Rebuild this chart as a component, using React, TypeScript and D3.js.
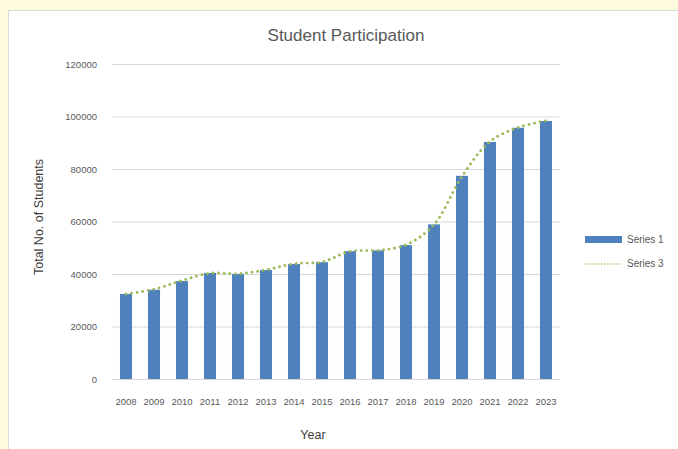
import * as d3 from 'd3';
import React from 'react';

const years = ['2008', '2009', '2010', '2011', '2012', '2013', '2014', '2015', '2016', '2017', '2018', '2019', '2020', '2021', '2022', '2023'];
const series1 = [32400, 34000, 37300, 40400, 40000, 41500, 43800, 44500, 48700, 49000, 51000, 58900, 77400, 90300, 95700, 98300];
const series3 = [32400, 34200, 37500, 40300, 40100, 41600, 43900, 44600, 48600, 49000, 51100, 58800, 77200, 90500, 95800, 98400];
const yTicks = [0, 20000, 40000, 60000, 80000, 100000, 120000];

const W = 678;
const H = 449;
const font = '"Liberation Sans", Arial, sans-serif';
const textColor = '#595959';

const App: React.FC = () => {
  const margin = { top: 64, right: 118, bottom: 70, left: 112 };
  const plotW = W - margin.left - margin.right;
  const plotH = H - margin.top - margin.bottom;

  const x = d3.scaleBand()
    .range([0, plotW])
    .domain(years)
    .paddingInner(0.57)
    .paddingOuter(0.285);

  const y = d3.scaleLinear()
    .domain([0, 120000])
    .range([plotH, 0]);

  const line = d3.line<number>()
    .x((_, i) => (x(years[i]) ?? 0) + x.bandwidth() / 2)
    .y(d => y(d))
    .curve(d3.curveCatmullRom.alpha(0.5));

  return (
    <div style={{ position: 'fixed', left: 0, top: 0 }}>
      <svg width={W} height={H} style={{ display: 'block' }}>
        <rect x={0} y={0} width={W} height={H} fill="#fdfbdb" />
        <rect x={8.5} y={10.5} width={W} height={H} fill="#ffffff" stroke="#d9d9d9" />
        <text x={346} y={41} textAnchor="middle" fontFamily={font} fontSize={17} fill={textColor}>Student Participation</text>

        <g transform={`translate(${margin.left}, ${margin.top})`}>
          {yTicks.map(t => (
            <g key={t}>
              <line x1={0} x2={plotW} y1={y(t) + 0.5} y2={y(t) + 0.5} stroke="#d9d9d9" strokeWidth={1} />
              <text x={-15} y={y(t) + 3.5} textAnchor="end" fontFamily={font} fontSize={9.5} fill={textColor}>{t}</text>
            </g>
          ))}
          {series1.map((v, i) => (
            <rect key={years[i]} x={x(years[i])} y={y(v)} width={x.bandwidth()} height={plotH - y(v)} fill="#4f81bd" />
          ))}
          <path d={line(series3) ?? ''} fill="none" stroke="#9bbb59" strokeWidth={2.8} strokeDasharray="0.1 5.5" strokeLinecap="round" />
          {years.map(yr => (
            <text key={yr} x={(x(yr) ?? 0) + x.bandwidth() / 2} y={plotH + 26} textAnchor="middle" fontFamily={font} fontSize={9.5} fill={textColor}>{yr}</text>
          ))}
        </g>

        <text transform="translate(43, 217) rotate(-90)" textAnchor="middle" fontFamily={font} fontSize={12.5} fill="#404040">Total No. of Students</text>
        <text x={313} y={439} textAnchor="middle" fontFamily={font} fontSize={12.5} fill="#404040">Year</text>

        <rect x={585} y={236} width={37} height={7} fill="#4f81bd" />
        <text x={627} y={243} fontFamily={font} fontSize={10} fill={textColor}>Series 1</text>
        <line x1={586} x2={621} y1={264} y2={264} stroke="#9bbb59" strokeWidth={1.5} strokeDasharray="0.1 3" strokeLinecap="round" />
        <text x={627} y={267} fontFamily={font} fontSize={10} fill={textColor}>Series 3</text>
      </svg>
    </div>
  );
};

export default App;
